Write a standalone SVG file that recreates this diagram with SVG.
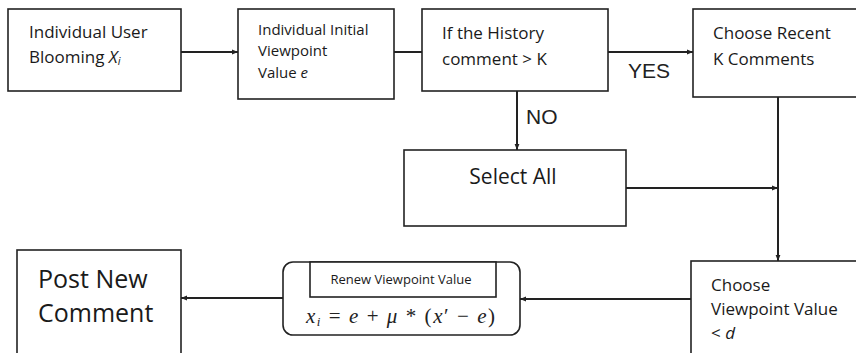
<svg xmlns="http://www.w3.org/2000/svg" width="856" height="353" viewBox="0 0 856 353">
<style>
.box{fill:#fff;stroke:#222;stroke-width:1.6}
.t{font-family:"Open Sans","Liberation Sans",sans-serif;fill:#1a1a1a}
.lbl{font-family:"Liberation Sans",Arial,sans-serif;fill:#222;font-size:21px}
.c{stroke:#222;stroke-width:2;fill:none}
</style>
<defs>
<marker id="ah" viewBox="0 0 10 10" refX="10" refY="5" markerWidth="6" markerHeight="6" orient="auto" markerUnits="userSpaceOnUse">
<path d="M0,1 L10,5 L0,9 z" fill="#222"/>
</marker>
</defs>
<rect width="856" height="353" fill="#fff"/>
<g id="connectors">
<line class="c" x1="181" y1="52" x2="238" y2="52" marker-end="url(#ah)"/>
<line class="c" x1="394" y1="52" x2="422" y2="52"/>
<line class="c" x1="608" y1="52" x2="693" y2="52" marker-end="url(#ah)"/>
<line class="c" x1="517" y1="91" x2="517" y2="150" marker-end="url(#ah)"/>
<line class="c" x1="778" y1="97" x2="778" y2="261" marker-end="url(#ah)"/>
<line class="c" x1="626" y1="188" x2="778" y2="188" marker-end="url(#ah)"/>
<line class="c" x1="691" y1="299" x2="520" y2="299" marker-end="url(#ah)"/>
<line class="c" x1="283" y1="298" x2="181" y2="298" marker-end="url(#ah)"/>
<text class="lbl" x="628" y="78">YES</text>
<text class="lbl" x="526" y="124">NO</text>
</g>
<g id="n1">
<rect class="box" x="8" y="9" width="173" height="82"/>
<text class="t" x="29" y="38" font-size="17">Individual User</text>
<text class="t" x="29" y="63" font-size="17">Blooming <tspan font-style="italic">X<tspan font-size="11" dy="2">i</tspan></tspan></text>
</g>
<g id="n2">
<rect class="box" x="238" y="9" width="156" height="90"/>
<text class="t" x="258" y="35" font-size="15">Individual Initial</text>
<text class="t" x="258" y="56" font-size="15">Viewpoint</text>
<text class="t" x="258" y="78" font-size="15">Value <tspan font-style="italic">e</tspan></text>
</g>
<g id="n3">
<rect class="box" x="422" y="9" width="186" height="82"/>
<text class="t" x="442" y="39" font-size="17">If the History</text>
<text class="t" x="442" y="65" font-size="17">comment &gt; K</text>
</g>
<g id="n4">
<rect class="box" x="693" y="9" width="170" height="88"/>
<text class="t" x="713" y="39" font-size="17">Choose Recent</text>
<text class="t" x="713" y="65" font-size="17">K Comments</text>
</g>
<g id="n5">
<rect class="box" x="404" y="150" width="222" height="76"/>
<text class="t" x="513" y="184" font-size="21" text-anchor="middle">Select All</text>
</g>
<g id="n6">
<rect class="box" x="691" y="261" width="172" height="100"/>
<text class="t" x="711" y="291" font-size="17">Choose</text>
<text class="t" x="711" y="315" font-size="17">Viewpoint Value</text>
<text class="t" x="711" y="339" font-size="17">&lt; <tspan font-style="italic">d</tspan></text>
</g>
<g id="n7">
<rect class="box" x="283" y="262" width="237" height="73" rx="10"/>
<rect class="box" x="310" y="262" width="186" height="35"/>
<text class="t" x="401" y="284" font-size="13" text-anchor="middle">Renew Viewpoint Value</text>
<text x="306" y="323" font-family="Liberation Serif,serif" font-size="21" fill="#222" textLength="189" lengthAdjust="spacing"><tspan font-style="italic">x</tspan><tspan font-style="italic" font-size="13" dy="3">i</tspan><tspan dy="-3"> = </tspan><tspan font-style="italic">e</tspan> +  <tspan font-style="italic">μ</tspan> * (<tspan font-style="italic">x</tspan>′ − <tspan font-style="italic">e</tspan>)</text>
</g>
<g id="n8">
<rect class="box" x="17" y="250" width="164" height="115"/>
<text class="t" x="38" y="288" font-size="25">Post New</text>
<text class="t" x="38" y="322" font-size="25">Comment</text>
</g>
</svg>
